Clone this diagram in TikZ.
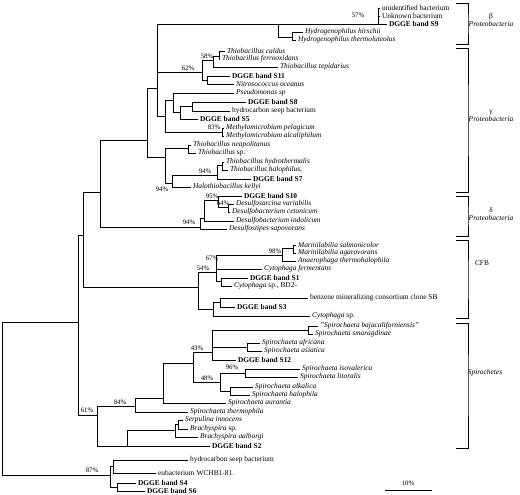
\documentclass[tikz,border=0pt]{standalone}
\usepackage{fontspec}
\setmainfont{Liberation Serif}
\begin{document}
\begin{tikzpicture}[x=1pt,y=-1pt,line width=0.6pt,
  lf/.style={anchor=west,inner xsep=1.8pt,inner ysep=0pt,font=\fontsize{7.4}{8}\selectfont},
  it/.style={lf,font=\fontsize{7.4}{8}\selectfont\itshape},
  bf/.style={lf,font=\fontsize{7.4}{8}\selectfont\bfseries},
  pct/.style={inner sep=0pt,font=\fontsize{6.8}{7}\selectfont},
  grp/.style={inner sep=0pt,font=\fontsize{7.4}{8.8}\selectfont,align=center},
  brk/.style={line width=0.7pt}]
\useasboundingbox (0,0) rectangle (520,495);
% ---------- leaves ----------
\node[lf] (L1) at (380,8) {unidentified bacterium};
\node[lf] (L2) at (380,16) {Unknown bacterium};
\node[bf] (L3) at (387,24) {DGGE band S9};
\node[it] (L4) at (303,32) {Hydrogenophilus hirschii};
\node[it] (L5) at (296,40) {Hydrogenophilus thermoluteolus};
\node[it] (L6) at (225,51) {Thiobacillus caldus};
\node[it] (L7) at (220,59) {Thiobacillus ferrooxidans};
\node[it] (L8) at (278,67) {Thiobacillus tepidarius};
\node[bf] (L9) at (230,76) {DGGE band S11};
\node[it] (L10) at (234,84) {Nitrosococcus oceanus};
\node[it] (L11) at (234,93) {Pseudomonas sp};
\node[bf] (L12) at (246,102) {DGGE band S8};
\node[lf] (L13) at (230,111) {hydrocarbon seep bacterium};
\node[bf] (L14) at (198,119) {DGGE band S5};
\node[it] (L15) at (224,128) {Methylomicrobium pelagicum};
\node[it] (L16) at (224,136) {Methylomicrobium alcaliphilum};
\node[it] (L17) at (191,145) {Thiobacillus neapolitanus};
\node[lf] (L18) at (196,153) {\textit{Thiobacillus} sp.};
\node[it] (L19) at (224,162) {Thiobacillus hydrothermalis};
\node[it] (L20) at (228,170) {Thiobacillus halophilus,};
\node[bf] (L21) at (251,179) {DGGE band S7};
\node[it] (L22) at (191,187) {Halothiobacillus kellyi};
\node[bf] (L23) at (242,196) {DGGE band S10};
\node[it] (L24) at (234,204) {Desulfosarcina variabilis};
\node[it] (L25) at (230,212) {Desulfobacterium cetonicum};
\node[it] (L26) at (234,221) {Desulfobacterium indolicum};
\node[it] (L27) at (227,229) {Desulfostipes sapovorans};
\node[it] (L28) at (296,245) {Marinilabilia salmonicolor};
\node[it] (L29) at (296,253) {Marinilabilia agarovorans};
\node[it] (L30) at (296,261) {Anaerophaga thermohalophila};
\node[it] (L31) at (262,269) {Cytophaga fermentans};
\node[bf] (L32) at (248,278) {DGGE band S1};
\node[lf] (L33) at (232,286) {\textit{Cytophaga} sp., BD2-};
\node[lf] (L34) at (308,298) {benzene mineralizing consortium clone SB};
\node[bf] (L35) at (235,307) {DGGE band S3};
\node[lf] (L36) at (310,316) {\textit{Cytophaga} sp.};
\node[it] (L37) at (318,326) {"Spirochaeta bajacaliforniensis"};
\node[it] (L38) at (313,334) {Spirochaeta smaragdinae};
\node[it] (L39) at (260,343) {Spirochaeta africana};
\node[it] (L40) at (262,351) {Spirochaeta asiatica};
\node[bf] (L41) at (236,360) {DGGE band S12};
\node[it] (L42) at (300,369) {Spirochaeta isovalerica};
\node[it] (L43) at (298,377) {Spirochaeta litoralis};
\node[it] (L44) at (253,387) {Spirochaeta alkalica};
\node[it] (L45) at (250,395) {Spirochaeta halophila};
\node[it] (L46) at (226,403) {Spirochaeta aurantia};
\node[it] (L47) at (188,412) {Spirochaeta thermophila};
\node[it] (L48) at (183,420) {Serpulina innocens};
\node[lf] (L49) at (188,429) {\textit{Brachyspira} sp.};
\node[it] (L50) at (198,437) {Brachyspira aalborgi};
\node[bf] (L51) at (210,446) {DGGE band S2};
\node[lf] (L52) at (188,460) {hydrocarbon seep bacterium};
\node[lf] (L53) at (156,473) {eubacterium WCHB1-81.};
\node[bf] (L54) at (136,483) {DGGE band S4};
\node[bf] (L55) at (145,491) {DGGE band S6};
% ---------- internal nodes ----------
\coordinate (R) at (2,400);
\coordinate (N1) at (78,322);
\coordinate (N2) at (83,235);
\coordinate (P) at (100,192);
\coordinate (PT) at (147,140);
\coordinate (BG) at (157,88);
\coordinate (BB) at (278,24);
\coordinate (B57) at (378,24);
\coordinate (HY) at (292,37);
\coordinate (C62) at (202,72);
\coordinate (C58) at (213,60);
\coordinate (A) at (219,56);
\coordinate (S11g) at (207,80);
\coordinate (PM) at (165,116);
\coordinate (PS) at (173,100);
\coordinate (S5g) at (180,112);
\coordinate (S8g) at (192,106);
\coordinate (M83) at (222,132);
\coordinate (TN) at (165,157);
\coordinate (NP) at (188,148);
\coordinate (TH) at (172,183);
\coordinate (T94) at (217,175);
\coordinate (T94b) at (222,165);
\coordinate (D94) at (200,227);
\coordinate (D95) at (204,218);
\coordinate (D95b) at (218,200);
\coordinate (D64) at (228,207);
\coordinate (C54) at (198,287);
\coordinate (C67) at (216,272);
\coordinate (M98) at (282,255);
\coordinate (Mar) at (293,248);
\coordinate (S1g) at (221,281);
\coordinate (C3) at (213,309);
\coordinate (BS) at (220,302);
\coordinate (SPR) at (97,415);
\coordinate (S84) at (135,406);
\coordinate (S163) at (163,398);
\coordinate (SP43) at (193,363);
\coordinate (SPa) at (212,352);
\coordinate (SPb) at (308,330);
\coordinate (SPc) at (247,347);
\coordinate (SP48) at (220,382);
\coordinate (S96) at (245,373);
\coordinate (SA) at (230,391);
\coordinate (Y) at (127,446);
\coordinate (BR) at (175,430);
\coordinate (BR2) at (178,424);
\coordinate (E) at (110,475);
\coordinate (E1) at (113,466);
\coordinate (E2) at (117,487);
% ---------- branches ----------
\draw (R) |- (N1); \draw (R) |- (E);
\draw (N1) |- (N2); \draw (N1) |- (SPR);
\draw (N2) |- (P); \draw (N2) |- (C54);
\draw (P) |- (PT); \draw (P) |- (D94);
\draw (PT) |- (BG); \draw (PT) |- (TN);
\draw (BG) |- (BB); \draw (BG) |- (C62); \draw (BG) |- (PM);
\draw (BB) |- (B57); \draw (BB) |- (HY);
\draw (B57) |- (L1.west); \draw (B57) |- (L2.west); \draw (B57) |- (L3.west);
\draw (HY) |- (L4.west); \draw (HY) |- (L5.west);
\draw (C62) |- (C58); \draw (C62) |- (S11g);
\draw (C58) |- (A); \draw (C58) |- (L8.west);
\draw (A) |- (L6.west); \draw (A) |- (L7.west);
\draw (S11g) |- (L9.west); \draw (S11g) |- (L10.west);
\draw (PM) |- (PS); \draw (PM) |- (M83);
\draw (PS) |- (L11.west); \draw (PS) |- (S5g);
\draw (S5g) |- (S8g); \draw (S5g) |- (L14.west);
\draw (S8g) |- (L12.west); \draw (S8g) |- (L13.west);
\draw (M83) |- (L15.west); \draw (M83) |- (L16.west);
\draw (TN) |- (NP); \draw (TN) |- (TH);
\draw (NP) |- (L17.west); \draw (NP) |- (L18.west);
\draw (TH) |- (T94); \draw (TH) |- (L22.west);
\draw (T94) |- (T94b); \draw (T94) |- (L21.west);
\draw (T94b) |- (L19.west); \draw (T94b) |- (L20.west);
\draw (D94) |- (D95); \draw (D94) |- (L27.west);
\draw (D95) |- (D95b); \draw (D95) |- (L26.west);
\draw (D95b) |- (L23.west); \draw (D95b) |- (D64);
\draw (D64) |- (L24.west); \draw (D64) |- (L25.west);
\draw (C54) |- (C67); \draw (C54) |- (C3);
\draw (C67) |- (M98); \draw (C67) |- (L31.west); \draw (C67) |- (S1g);
\draw (M98) |- (Mar); \draw (M98) |- (L30.west);
\draw (Mar) |- (L28.west); \draw (Mar) |- (L29.west);
\draw (S1g) |- (L32.west); \draw (S1g) |- (L33.west);
\draw (C3) |- (BS); \draw (C3) |- (L36.west);
\draw (BS) |- (L34.west); \draw (BS) |- (L35.west);
\draw (SPR) |- (S84); \draw (SPR) |- (Y);
\draw (S84) |- (S163); \draw (S84) |- (L47.west);
\draw (S163) |- (SP43); \draw (S163) |- (L46.west);
\draw (SP43) |- (SPa); \draw (SP43) |- (SP48);
\draw (SPa) |- (SPb); \draw (SPa) |- (SPc); \draw (SPa) |- (L41.west);
\draw (SPb) |- (L37.west); \draw (SPb) |- (L38.west);
\draw (SPc) |- (L39.west); \draw (SPc) |- (L40.west);
\draw (SP48) |- (S96); \draw (SP48) |- (SA);
\draw (S96) |- (L42.west); \draw (S96) |- (L43.west);
\draw (SA) |- (L44.west); \draw (SA) |- (L45.west);
\draw (Y) |- (BR); \draw (Y) |- (L51.west);
\draw (BR) |- (BR2); \draw (BR) |- (L50.west);
\draw (BR2) |- (L48.west); \draw (BR2) |- (L49.west);
\draw (E) |- (E1); \draw (E) |- (E2);
\draw (E1) |- (L52.west); \draw (E1) |- (L53.west);
\draw (E2) |- (L54.west); \draw (E2) |- (L55.west);
% ---------- support values ----------
\node[pct] (p57) at (358,15) {57\%};
\node[pct] (p58) at (207,56) {58\%};
\node[pct] (p62) at (188,68) {62\%};
\node[pct] (p83) at (214,127) {83\%};
\node[pct] (p94a) at (205,171) {94\%};
\node[pct] (p94b) at (162,189) {94\%};
\node[pct] (p95) at (212,196) {95\%};
\node[pct] (p64) at (223,203) {64\%};
\node[pct] (p94c) at (189,222) {94\%};
\node[pct] (p98) at (275,251) {98\%};
\node[pct] (p67) at (212,258) {67\%};
\node[pct] (p54) at (203,268) {54\%};
\node[pct] (p43) at (197,348) {43\%};
\node[pct] (p96) at (232,367) {96\%};
\node[pct] (p48) at (207,378) {48\%};
\node[pct] (p84) at (120,402) {84\%};
\node[pct] (p61) at (87,410) {61\%};
\node[pct] (p87) at (92,470) {87\%};
% ---------- group brackets ----------
\coordinate (b1t) at (456,3); \coordinate (b1b) at (456,44);
\coordinate (b2t) at (456,48); \coordinate (b2b) at (456,192);
\coordinate (b3t) at (456,196); \coordinate (b3b) at (456,236);
\coordinate (b4t) at (456,240); \coordinate (b4b) at (456,318);
\coordinate (b5t) at (456,323); \coordinate (b5b) at (456,448);
\draw[brk] (b1t) -| (468,24) |- (b1b);
\draw[brk] (b2t) -| (468,120) |- (b2b);
\draw[brk] (b3t) -| (468,216) |- (b3b);
\draw[brk] (b4t) -| (468,280) |- (b4b);
\draw[brk] (b5t) -| (468,385) |- (b5b);
\node[grp] (g1) at (491,20) {β\\[-1pt]\textit{Proteobacteria}};
\node[grp] (g2) at (491,116) {γ\\[-1pt]\textit{Proteobacteria}};
\node[grp] (g3) at (491,214) {δ\\[-1pt]\textit{Proteobacteria}};
\node[grp] (g4) at (482,263) {CFB};
\node[grp] (g5) at (485,373) {\textit{Spirochetes}};
% ---------- scale bar ----------
\coordinate (sb1) at (385,490); \coordinate (sb2) at (432,490);
\draw (sb1) -- (sb2);
\node[pct] (sbl) at (408,483) {10\%};
\end{tikzpicture}
\end{document}
